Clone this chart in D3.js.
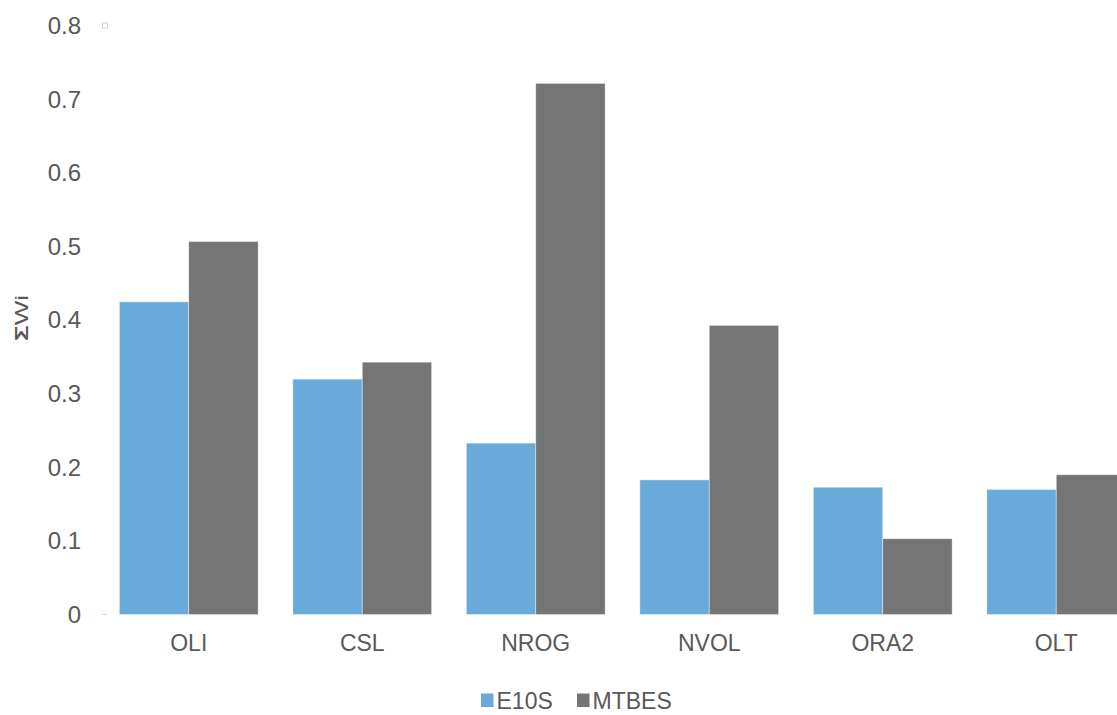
<!DOCTYPE html>
<html>
<head>
<meta charset="utf-8">
<script src="https://cdn.jsdelivr.net/npm/d3@7"></script>
<style>
  html, body { margin: 0; padding: 0; background: #fff; overflow: hidden; }
  svg { display: block; font-family: "Liberation Sans", Arial, sans-serif; }
</style>
</head>
<body>
<svg id="chart" width="1117" height="715"></svg>
<script>
// Categories and series values
const categories = ["OLI", "CSL", "NROG", "NVOL", "ORA2", "OLT"];
const seriesNames = ["E10S", "MTBES"];
const e10sValues = [0.425, 0.320, 0.233, 0.183, 0.173, 0.170];
const mtbesValues = [0.507, 0.343, 0.722, 0.393, 0.103, 0.190];
const yTicks = [0, 0.1, 0.2, 0.3, 0.4, 0.5, 0.6, 0.7, 0.8];
const seriesColors = ["#6aaadb", "#757575"];

const svg = d3.select("#chart");
const plot = { left: 102, right: 1143, top: 26, bottom: 614.5 };
const textColor = "#595959";

const x = d3.scaleBand().domain(categories).range([plot.left, plot.right]).paddingInner(0.2).paddingOuter(0.1);
const xSeries = d3.scaleBand().domain(seriesNames).range([0, x.bandwidth()]);
const y = d3.scaleLinear().domain([0, 0.8]).range([plot.bottom, plot.top]);

const rows = categories.map((c, i) => ({ cat: c, vals: [e10sValues[i], mtbesValues[i]] }));

// Bars
const groups = svg.append("g").selectAll("g").data(rows).join("g")
  .attr("transform", d => `translate(${x(d.cat)},0)`);
groups.selectAll("rect")
  .data(d => d.vals.map((v, k) => ({ name: seriesNames[k], v, k })))
  .join("rect")
  .attr("x", d => xSeries(d.name))
  .attr("width", xSeries.bandwidth())
  .attr("y", d => y(d.v))
  .attr("height", d => y(0) - y(d.v))
  .attr("fill", d => seriesColors[d.k])
  .attr("stroke", "#ffffff")
  .attr("stroke-opacity", 0.5)
  .attr("stroke-width", 0.8);

// Y axis: labels only, faint marks at the ends
const yAxis = d3.axisLeft(y).tickValues(yTicks).tickSize(0).tickPadding(21)
  .tickFormat(d => d === 0 ? "0" : d3.format(".1f")(d));
const yg = svg.append("g").attr("transform", `translate(${plot.left},0)`).call(yAxis);
yg.select(".domain").remove();
yg.selectAll("text").attr("font-size", 24).attr("fill", textColor)
  .attr("font-family", "Liberation Sans, Arial, sans-serif");

svg.append("line")
  .attr("x1", plot.left).attr("x2", plot.left + 5)
  .attr("y1", y(0)).attr("y2", y(0))
  .attr("stroke", "#d9d9d9").attr("stroke-width", 1);
svg.append("rect")
  .attr("x", plot.left + 0.5).attr("y", y(0.8) - 3)
  .attr("width", 5).attr("height", 5)
  .attr("fill", "none").attr("stroke", "#d0d0d0").attr("stroke-width", 1);

// X axis labels
const xAxis = d3.axisBottom(x).tickSize(0).tickPadding(20);
const xg = svg.append("g").attr("transform", `translate(0,${plot.bottom})`).call(xAxis);
xg.select(".domain").remove();
xg.selectAll("text").attr("font-size", 23).attr("fill", textColor)
  .attr("font-family", "Liberation Sans, Arial, sans-serif");

// Y axis title
const yTitle = svg.append("text")
  .attr("transform", `translate(28,318) rotate(-90)`)
  .attr("text-anchor", "middle")
  .attr("font-size", 19).attr("fill", textColor)
  .attr("textLength", 46).attr("lengthAdjust", "spacingAndGlyphs");
yTitle.append("tspan").attr("font-weight", "bold").text("Σ");
yTitle.append("tspan").text("Wi");

// Legend
const legend = svg.append("g").attr("transform", "translate(481,709)");
const legendX = [0, 96];
seriesNames.forEach((name, k) => {
  const g = legend.append("g").attr("transform", `translate(${legendX[k]},0)`);
  g.append("rect").attr("x", 0).attr("y", -15.5).attr("width", 12.5).attr("height", 13.5).attr("fill", seriesColors[k]);
  g.append("text").attr("x", 15.5).attr("y", 0)
    .attr("font-size", 23).attr("fill", textColor).text(name);
});
</script>
</body>
</html>
